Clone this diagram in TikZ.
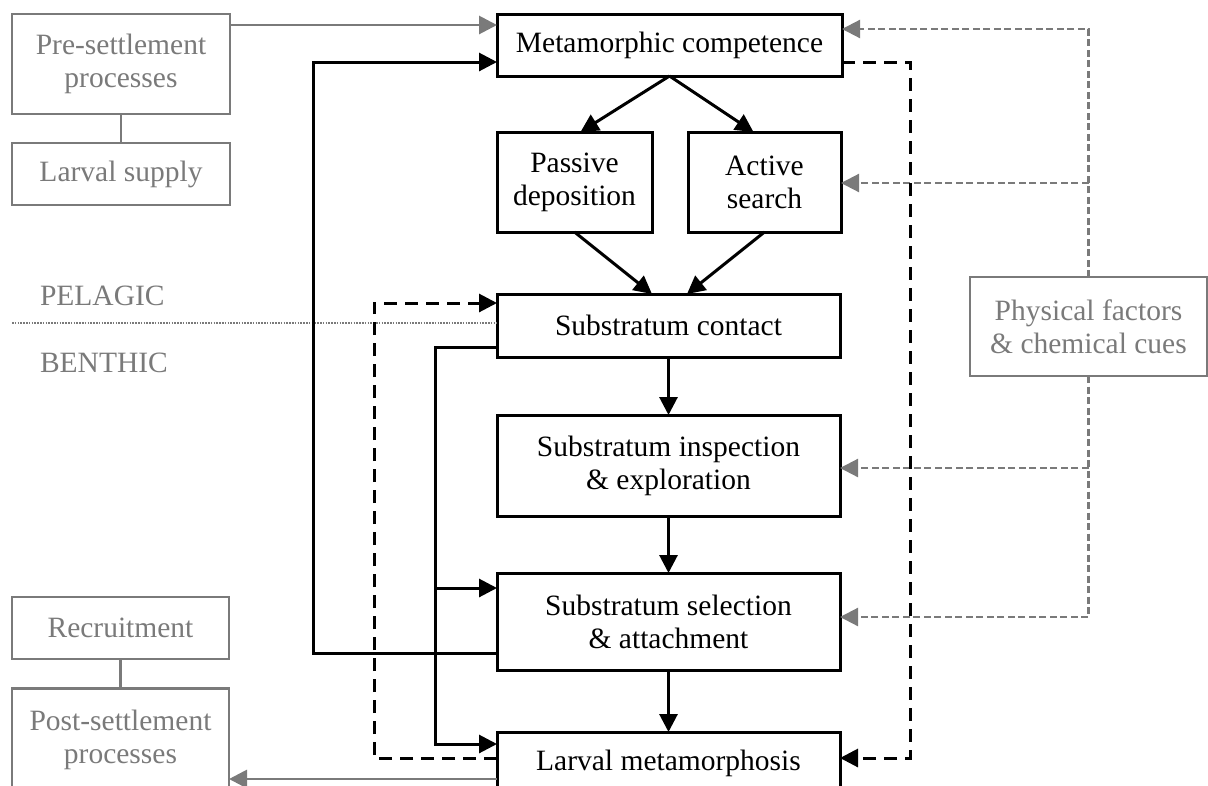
\documentclass[tikz,border=0pt]{standalone}
\usepackage{fontspec}
\setmainfont{Liberation Serif}
\usetikzlibrary{arrows.meta,calc}
\definecolor{gr}{HTML}{7A7A7A}
\begin{document}
\begin{tikzpicture}[x=1pt,y=-1pt,
  every node/.style={font=\fontsize{29.5}{33}\selectfont, align=center, inner sep=0pt, outer sep=0pt},
  blk/.style={draw=black, line width=3pt},
  gbox/.style={draw=gr, text=gr, line width=2.9pt},
  glabel/.style={text=gr, anchor=base west},
  tip/.style={-{Triangle[length=18pt,width=18pt]}},
  arr/.style={tip, draw=black, line width=3pt},
  darr/.style={arr, dash pattern=on 13pt off 8pt},
  garr/.style={tip, draw=gr, fill=gr, line width=2.9pt},
  gline/.style={draw=gr, line width=2.9pt},
  gdarr/.style={tip, draw=gr, line width=2.2pt, dash pattern=on 7pt off 3.5pt},
  dotline/.style={draw=gr, line width=1.5pt, dash pattern=on 1.5pt off 1.3pt}]
\useasboundingbox (0,0) rectangle (1208,785);
% grey side boxes
\node[gbox, minimum width=218pt, minimum height=100pt] (pre) at (121,64) {Pre-settlement\\processes};
\node[gbox, minimum width=218pt, minimum height=62pt] (supply) at (121,174) {Larval supply};
\node[gbox, minimum width=217pt, minimum height=62pt] (recruit) at (120.5,628) {Recruitment};
\node[gbox, minimum width=217pt, minimum height=102pt] (post) at (120.5,739.5) {Post-settlement\\processes};
\node[gbox, minimum width=237pt, minimum height=99pt] (phys) at (1088.5,326.5) {Physical factors\\\& chemical cues};
\node[glabel] (pel) at (40,305) {PELAGIC};
\node[glabel] (ben) at (40,372) {BENTHIC};
% main boxes
\node[blk, minimum width=345pt, minimum height=62pt] (meta) at (669.5,45) {Metamorphic competence};
\node[blk, minimum width=155pt, minimum height=100pt] (passive) at (574.5,182) {Passive\\deposition};
\node[blk, minimum width=153pt, minimum height=100pt] (active) at (764.5,182) {Active\\search};
\node[blk, minimum width=343pt, minimum height=63pt] (contact) at (668.5,325.5) {Substratum contact};
\node[blk, minimum width=343pt, minimum height=101pt] (inspect) at (668.5,465.5) {Substratum inspection\\\& exploration};
\node[blk, minimum width=343pt, minimum height=97pt] (select) at (668.5,621.5) {Substratum selection\\\& attachment};
\node[blk, minimum width=343pt, minimum height=63pt] (larval) at (668.5,763.5) {Larval metamorphosis};
% dotted boundary
\draw[dotline] (12,323) -- (contact.west |- 0,323);
% grey links
\draw[garr] (pre.east |- 0,25) -- (meta.west |- 0,25);
\draw[gline] (pre.south) -- (supply.north);
\draw[gline] (recruit.south) -- (post.north);
\draw[garr] (larval.west |- 0,779) -- (post.east |- 0,779);
% grey dashed cue arrows
\draw[gdarr] (phys.north) -- (phys.north |- 0,29) -- (meta.east |- 0,29);
\draw[gdarr] (phys.north |- 0,183) -- (active.east |- 0,183);
\draw[gdarr] (phys.south) -- (phys.south |- 0,617) -- (select.east |- 0,617);
\draw[gdarr] (phys.south |- 0,468) -- (inspect.east |- 0,468);
% main flow
\draw[arr] (meta.south) -- ($(passive.north)+(6,0)$);
\draw[arr] (meta.south) -- ($(active.north)+(-11,0)$);
\draw[arr] (passive.south) -- ($(contact.north)+(-16.5,0)$);
\draw[arr] (active.south) -- ($(contact.north)+(18.5,0)$);
\draw[arr] (contact.south) -- (inspect.north);
\draw[arr] (inspect.south) -- (select.north);
\draw[arr] (select.south) -- (larval.north);
% feedback solid
\draw[arr] (select.west |- 0,653) -- (313,653) -- (313,62) -- (meta.west |- 0,62);
\draw[arr] (contact.west |- 0,347) -- (435,347) -- (435,744) -- (larval.west |- 0,744);
\draw[arr] (435,588) -- (select.west |- 0,588);
% feedback dashed
\draw[darr] (meta.east |- 0,62) -- (910,62) -- (910,758) -- (larval.east |- 0,758);
\draw[darr] (larval.west |- 0,758) -- (374,758) -- (374,303) -- (contact.west |- 0,303);
\end{tikzpicture}
\end{document}
